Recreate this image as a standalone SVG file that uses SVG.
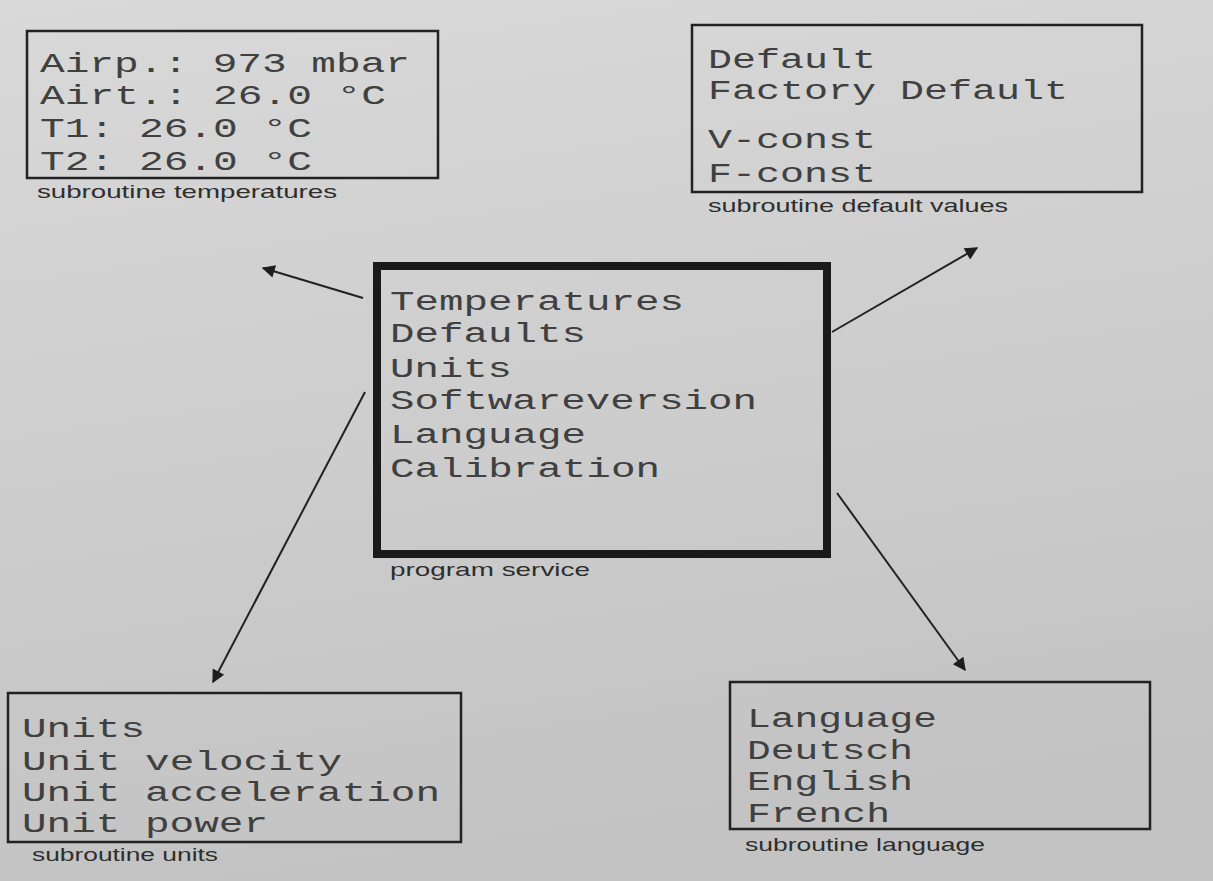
<svg xmlns="http://www.w3.org/2000/svg" width="1213" height="881" viewBox="0 0 1213 881">
<defs>
<linearGradient id="bg" x1="0" y1="0" x2="0.2" y2="1">
<stop offset="0" stop-color="#d9d9d9"/>
<stop offset="1" stop-color="#c3c3c3"/>
</linearGradient>
<marker id="ah" viewBox="0 0 10 10" markerUnits="userSpaceOnUse" markerWidth="18" markerHeight="13" refX="9" refY="5" orient="auto">
<path d="M0,0 L10,5 L0,10 z" fill="#1e1e1e"/>
</marker>
</defs>
<style>
.box{fill:none;stroke:#222;stroke-width:2.5}
.main{fill:none;stroke:#1a1a1a;stroke-width:8}
.mono{font-family:"Liberation Mono","DejaVu Sans Mono",monospace;font-size:27px;fill:#404040}
.cap{font-family:"Liberation Sans",Arial,sans-serif;font-size:19px;fill:#2e2e2e}
.conn{stroke:#222;stroke-width:2;fill:none;marker-end:url(#ah)}
</style>
<rect x="0" y="0" width="1213" height="881" fill="url(#bg)"/>

<g id="node-temperatures">
<rect class="box" x="27" y="31" width="411" height="147"/>
<text class="mono" x="40" y="72" textLength="370" lengthAdjust="spacingAndGlyphs">Airp.: 973 mbar</text>
<text class="mono" x="40" y="104" textLength="346" lengthAdjust="spacingAndGlyphs">Airt.: 26.0 °C</text>
<text class="mono" x="40" y="137" textLength="272" lengthAdjust="spacingAndGlyphs">T1: 26.0 °C</text>
<text class="mono" x="40" y="170" textLength="272" lengthAdjust="spacingAndGlyphs">T2: 26.0 °C</text>
<text class="cap" x="37" y="198" textLength="300" lengthAdjust="spacingAndGlyphs">subroutine temperatures</text>
</g>

<g id="node-defaults">
<rect class="box" x="692" y="25" width="450" height="167"/>
<text class="mono" x="708" y="68" textLength="168" lengthAdjust="spacingAndGlyphs">Default</text>
<text class="mono" x="708" y="99" textLength="360" lengthAdjust="spacingAndGlyphs">Factory Default</text>
<text class="mono" x="708" y="148" textLength="168" lengthAdjust="spacingAndGlyphs">V-const</text>
<text class="mono" x="708" y="182" textLength="168" lengthAdjust="spacingAndGlyphs">F-const</text>
<text class="cap" x="708" y="212" textLength="300" lengthAdjust="spacingAndGlyphs">subroutine default values</text>
</g>

<g id="node-service">
<rect class="main" x="377" y="266" width="450" height="288"/>
<text class="mono" x="390" y="310" textLength="294" lengthAdjust="spacingAndGlyphs">Temperatures</text>
<text class="mono" x="390" y="342" textLength="196" lengthAdjust="spacingAndGlyphs">Defaults</text>
<text class="mono" x="390" y="377" textLength="122" lengthAdjust="spacingAndGlyphs">Units</text>
<text class="mono" x="390" y="409" textLength="367" lengthAdjust="spacingAndGlyphs">Softwareversion</text>
<text class="mono" x="390" y="443" textLength="196" lengthAdjust="spacingAndGlyphs">Language</text>
<text class="mono" x="390" y="477" textLength="270" lengthAdjust="spacingAndGlyphs">Calibration</text>
<text class="cap" x="390" y="576" textLength="200" lengthAdjust="spacingAndGlyphs">program service</text>
</g>

<g id="node-units">
<rect class="box" x="8" y="693" width="453" height="149"/>
<text class="mono" x="22" y="737" textLength="123" lengthAdjust="spacingAndGlyphs">Units</text>
<text class="mono" x="22" y="770" textLength="320" lengthAdjust="spacingAndGlyphs">Unit velocity</text>
<text class="mono" x="22" y="801" textLength="418" lengthAdjust="spacingAndGlyphs">Unit acceleration</text>
<text class="mono" x="22" y="832" textLength="246" lengthAdjust="spacingAndGlyphs">Unit power</text>
<text class="cap" x="32" y="861" textLength="186" lengthAdjust="spacingAndGlyphs">subroutine units</text>
</g>

<g id="node-language">
<rect class="box" x="730" y="682" width="420" height="147"/>
<text class="mono" x="747" y="727" textLength="190" lengthAdjust="spacingAndGlyphs">Language</text>
<text class="mono" x="747" y="759" textLength="166" lengthAdjust="spacingAndGlyphs">Deutsch</text>
<text class="mono" x="747" y="790" textLength="166" lengthAdjust="spacingAndGlyphs">English</text>
<text class="mono" x="747" y="822" textLength="143" lengthAdjust="spacingAndGlyphs">French</text>
<text class="cap" x="745" y="851" textLength="240" lengthAdjust="spacingAndGlyphs">subroutine language</text>
</g>

<g id="connectors">
<line class="conn" x1="363" y1="298" x2="263" y2="268"/>
<line class="conn" x1="832" y1="332" x2="977" y2="248"/>
<line class="conn" x1="365" y1="392" x2="213" y2="682"/>
<line class="conn" x1="837" y1="493" x2="965" y2="670"/>
</g>
</svg>
